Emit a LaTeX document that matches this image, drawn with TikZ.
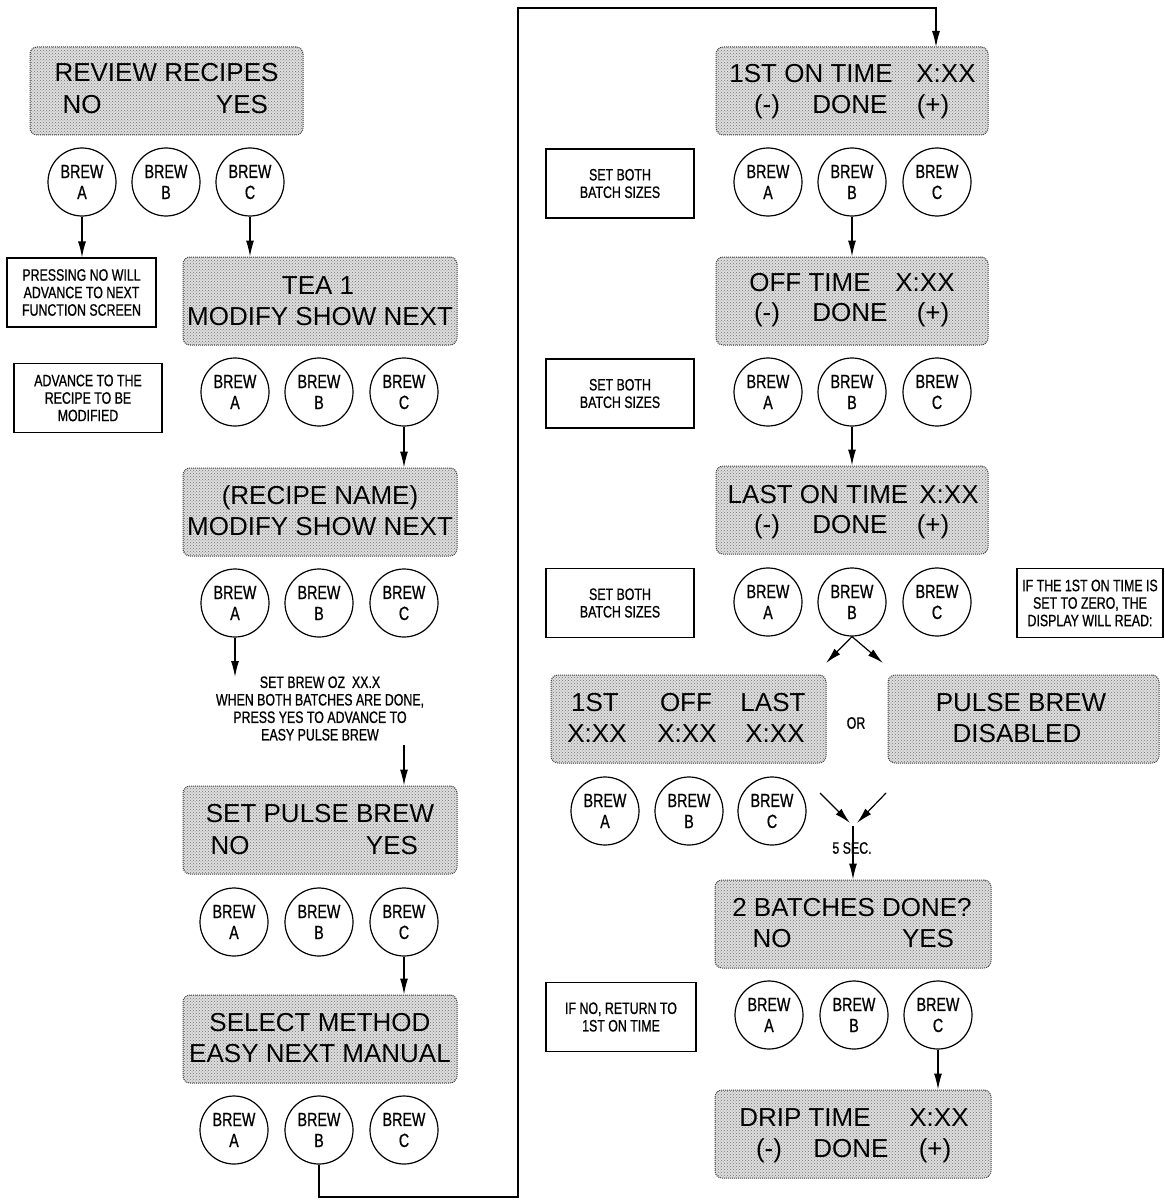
\documentclass[tikz,border=0pt]{standalone}
\usepackage{fontspec}
\setmainfont{Liberation Sans}
\newfontfamily\condf[FakeStretch=0.75,FakeBold=0.8]{Liberation Sans}
\usetikzlibrary{arrows.meta,patterns}
\newcommand{\brews}[5]{%
  \node[btn] (#1a) at (#2,#5) {BREW\\A};
  \node[btn] (#1b) at (#3,#5) {BREW\\B};
  \node[btn] (#1c) at (#4,#5) {BREW\\C};}
\begin{document}
\begin{tikzpicture}[x=1pt,y=-1pt,
  big/.style={font=\fontsize{26}{30}\selectfont, inner sep=0pt, text height=18.6pt, text depth=0pt},
  sm/.style={font=\condf\fontsize{16.5}{17.5}\selectfont, align=center, inner sep=0pt},
  btn/.style={circle, draw, line width=1.2pt, minimum size=68pt, inner sep=0pt, align=center,
              font=\condf\fontsize{19}{21}\selectfont},
  note/.style={draw, line width=1.2pt, inner sep=0pt, align=center,
               font=\condf\fontsize{16.5}{17.5}\selectfont, minimum height=69pt},
  lcd/.style={draw=black!75, densely dotted, line width=1pt, rounded corners=7pt,
              preaction={fill=black!13}, pattern=crosshatch dots, pattern color=black!55,
              minimum height=88pt, inner sep=0pt},
  arr/.style={line width=1.2pt, -{Latex[length=16pt,width=8pt]}},
  con/.style={line width=1.2pt}]
\useasboundingbox (0,0) rectangle (1164,1201);

% ---------------- left column ----------------
\node[lcd, minimum width=273pt] (rev) at (166.5,91) {};
\node[big] (revt) at (166.5,72.5) {REVIEW RECIPES};
\node[big] (revno) at (82,104) {NO};
\node[big] (revyes) at (242,104) {YES};
\brews{r}{82}{166}{250}{182}

\node[note, minimum width=149pt] (pres) at (81.5,292.5) {PRESSING NO WILL\\ADVANCE TO NEXT\\FUNCTION SCREEN};
\node[note, minimum width=148pt] (adv) at (88,398) {ADVANCE TO THE\\RECIPE TO BE\\MODIFIED};

\node[lcd, minimum width=274pt] (tea) at (320,301) {};
\node[big] (teat) at (318,285) {TEA 1};
\node[big] (team) at (320,316) {MODIFY SHOW NEXT};
\brews{t}{235}{319}{404}{392}

\node[lcd, minimum width=274pt] (rcp) at (320,512) {};
\node[big] (rcpt) at (320,495) {(RECIPE NAME)};
\node[big] (rcpm) at (320,526) {MODIFY SHOW NEXT};
\brews{p}{235}{319}{404}{603}

\node[sm] (oz) at (320,708.5) {SET BREW OZ\ \ XX.X\\WHEN BOTH BATCHES ARE DONE,\\PRESS YES TO ADVANCE TO\\EASY PULSE BREW};
\coordinate (m1) at (235,677);
\coordinate (m2) at (404,745);

\node[lcd, minimum width=274pt] (spb) at (320,830) {};
\node[big] (spbt) at (320,813) {SET PULSE BREW};
\node[big] (spbno) at (230,845) {NO};
\node[big] (spbyes) at (392,845) {YES};
\brews{s}{234}{319}{404}{922}

\node[lcd, minimum width=274pt] (sel) at (320,1039) {};
\node[big] (selt) at (320,1022) {SELECT METHOD};
\node[big] (selm) at (320,1053) {EASY NEXT MANUAL};
\brews{e}{234}{319}{404}{1130}

% ---------------- right column ----------------
\node[lcd, minimum width=272pt] (on1) at (852,91) {};
\node[big] (on1t) at (811,73) {1ST ON TIME};
\node[big] (on1x) at (946,73) {X:XX};
\node[big] (on1m) at (767,104) {(-)};
\node[big] (on1d) at (850,104) {DONE};
\node[big] (on1p) at (933,104) {(+)};
\node[note, minimum width=148pt] (sb1) at (620,183.5) {SET BOTH\\BATCH SIZES};
\brews{o}{768}{852}{937}{182}

\node[lcd, minimum width=272pt] (off) at (852,301) {};
\node[big] (offt) at (810,282) {OFF TIME};
\node[big] (offx) at (925,282) {X:XX};
\node[big] (offm) at (767,312) {(-)};
\node[big] (offd) at (850,312) {DONE};
\node[big] (offp) at (933,312) {(+)};
\node[note, minimum width=148pt] (sb2) at (620,393.5) {SET BOTH\\BATCH SIZES};
\brews{f}{768}{852}{937}{392}

\node[lcd, minimum width=272pt] (last) at (852,510) {};
\node[big] (lastt) at (818,494) {LAST ON TIME};
\node[big] (lastx) at (949,494) {X:XX};
\node[big] (lastm) at (767,524) {(-)};
\node[big] (lastd) at (850,524) {DONE};
\node[big] (lastp) at (933,524) {(+)};
\node[note, minimum width=148pt] (sb3) at (620,603) {SET BOTH\\BATCH SIZES};
\brews{l}{768}{852}{937}{602}
\node[note, minimum width=146pt] (ifz) at (1090,603) {IF THE 1ST ON TIME IS\\SET TO ZERO, THE\\DISPLAY WILL READ:};
\coordinate (d1) at (826,663);
\coordinate (d2) at (883,663);

\node[lcd, minimum width=275pt] (sum) at (688.5,719) {};
\node[big] (s1) at (595,702) {1ST};
\node[big] (s2) at (686,702) {OFF};
\node[big] (s3) at (773,702) {LAST};
\node[big] (s4) at (597,733) {X:XX};
\node[big] (s5) at (687,733) {X:XX};
\node[big] (s6) at (775,733) {X:XX};
\node[sm] (or) at (856,723) {OR};
\node[lcd, minimum width=271pt] (dis) at (1023.5,719) {};
\node[big] (dist) at (1021,702) {PULSE BREW};
\node[big] (disd) at (1017,733) {DISABLED};
\brews{u}{605}{689}{772}{811}

\coordinate (c1) at (820,793);
\coordinate (c1e) at (850,823);
\coordinate (c2) at (886,793);
\coordinate (c2e) at (857,823);
\coordinate (j) at (853,826);
\node[sm] (sec) at (852,848) {5 SEC.};

\node[lcd, minimum width=276pt] (bat) at (853,924) {};
\node[big] (batt) at (852,907) {2 BATCHES DONE?};
\node[big] (batno) at (772,938) {NO};
\node[big] (batyes) at (928,938) {YES};
\node[note, minimum width=150pt] (ifno) at (621,1017) {IF NO, RETURN TO\\1ST ON TIME};
\brews{b}{769}{854}{938}{1015}

\node[lcd, minimum width=276pt] (drip) at (853,1134) {};
\node[big] (dript) at (805,1117) {DRIP TIME};
\node[big] (dripx) at (939,1117) {X:XX};
\node[big] (dripm) at (769,1148) {(-)};
\node[big] (dripd) at (851,1148) {DONE};
\node[big] (dripp) at (935,1148) {(+)};

% ---------------- connectors ----------------
\draw[arr] (ra.south) -- (ra.south |- pres.north);
\draw[arr] (rc.south) -- (rc.south |- tea.north);
\draw[arr] (tc.south) -- (tc.south |- rcp.north);
\draw[arr] (pa.south) -- (m1);
\draw[arr] (m2) -- (m2 |- spb.north);
\draw[arr] (sc.south) -- (sc.south |- sel.north);
\coordinate (lp1) at (518,1197);
\coordinate (lp2) at (518,8);
\coordinate (lp3) at (936,47);
\draw[arr] (eb.south) |- (lp1) -- (lp2) -| (lp3);
\draw[arr] (ob.south) -- (ob.south |- off.north);
\draw[arr] (fb.south) -- (fb.south |- last.north);
\draw[arr] (lb.south) -- (d1);
\draw[arr] (lb.south) -- (d2);
\draw[arr] (c1) -- (c1e);
\draw[arr] (c2) -- (c2e);
\draw[arr] (j) -- (j |- bat.north);
\draw[arr] (bc.south) -- (bc.south |- drip.north);
\end{tikzpicture}
\end{document}
